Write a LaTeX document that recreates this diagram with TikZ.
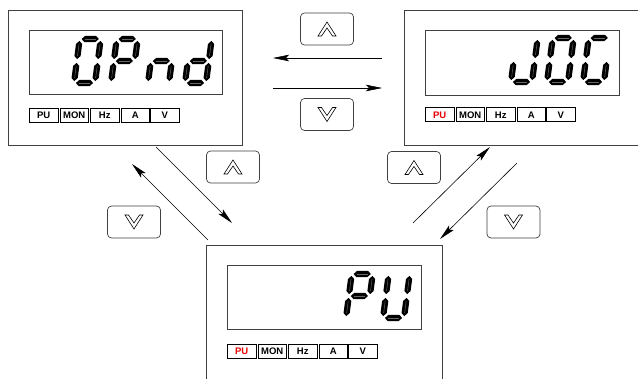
\documentclass[tikz,border=0pt]{standalone}
\usepackage{fontspec}
\setmainfont{Liberation Sans}
\usetikzlibrary{arrows.meta}

% seven-segment geometry (pt): width, height, middle, corner gap, half thickness
\def\segW{21}\def\segH{44}\def\segM{22}\def\segG{1.9}\def\segT{3.1}

% horizontal segment: x1, x2, y
\newcommand\hseg[3]{%
  \fill[segfill] (#1,#3) -- (#1+\segT,#3-\segT) -- (#2-\segT,#3-\segT) -- (#2,#3)
     -- (#2-\segT,#3+\segT) -- (#1+\segT,#3+\segT) -- cycle;
  \draw[seghi] (#1+\segT,#3) -- (#2-\segT,#3);}
% vertical segment: x, y-top, y-bottom
\newcommand\vseg[3]{%
  \fill[segfill] (#1,#2) -- (#1+\segT,#2+\segT) -- (#1+\segT,#3-\segT) -- (#1,#3)
     -- (#1-\segT,#3-\segT) -- (#1-\segT,#2+\segT) -- cycle;
  \draw[seghi] (#1,#2+\segT) -- (#1,#3-\segT);}

\newcommand\segA{\hseg{\segG}{\segW-\segG}{-\segH}}
\newcommand\segD{\hseg{\segG}{\segW-\segG}{0}}
\newcommand\segMid{\hseg{\segG}{\segW-\segG}{-\segM}}
\newcommand\segF{\vseg{0}{-\segH+\segG}{-\segM-\segG}}
\newcommand\segE{\vseg{0}{-\segM+\segG}{-\segG}}
\newcommand\segB{\vseg{\segW}{-\segH+\segG}{-\segM-\segG}}
\newcommand\segC{\vseg{\segW}{-\segM+\segG}{-\segG}}

% one digit with its lower left corner at (#1,#2)
\newcommand\digit[3]{\begin{scope}[shift={(#1,#2)},xslant=0.13]#3\end{scope}}

% row of indicator boxes: x, y, colour of PU, name prefix
\newcommand\lamps[4]{%
  \node[lampbox,text=#3] (#4pu)  at (#1,#2) {PU};
  \node[lampbox] (#4mon) at (#1+30.5,#2) {MON};
  \node[lampbox] (#4hz)  at (#1+61,#2) {Hz};
  \node[lampbox] (#4a)   at (#1+91.5,#2) {A};
  \node[lampbox] (#4v)   at (#1+121,#2) {V};}

\newcommand\chevup[1]{\draw[chev,shift={(#1.center)}]
  (-9,7) -- (0,-7) -- (9,7) -- (5.5,7) -- (0,-1) -- (-5.5,7) -- cycle;}
\newcommand\chevdown[1]{\draw[chev,shift={(#1.center)}]
  (-9,-7) -- (0,7) -- (9,-7) -- (5.5,-7) -- (0,1) -- (-5.5,-7) -- cycle;}

\definecolor{frame}{gray}{0.25}
\definecolor{lampred}{RGB}{230,0,0}

\begin{document}
\begin{tikzpicture}[x=1pt,y=-1pt,
  segfill/.style={fill=black},
  seghi/.style={draw=black!60,line width=0.5pt},
  outer/.style={draw=frame,line width=0.8pt},
  screen/.style={draw=frame,line width=1pt},
  lampbox/.style={draw=black,line width=0.9pt,anchor=north west,
    minimum width=28.5pt,minimum height=14pt,inner sep=0pt,
    font=\fontsize{9.5}{10}\selectfont\bfseries},
  btn/.style={draw=frame,line width=0.7pt,rounded corners=4pt,
    minimum width=53pt,minimum height=32pt,inner sep=0pt},
  chev/.style={draw=black,line width=0.6pt},
  conn/.style={line width=0.6pt,-{Stealth[length=16pt,width=6.5pt,inset=3pt]}}]

\useasboundingbox (0,0) rectangle (638,379);
\fill[white] (0,0) rectangle (638,379);

% ---- panel: OPnd ----
\draw[outer] (8,10) rectangle (242,145);
\draw[screen] (29,31) rectangle (222,95);
\digit{74}{83}{\segA\segB\segC\segD\segE\segF}
\digit{111}{83}{\segA\segB\segF\segMid\segE}
\digit{148}{83}{\segMid\segC\segE}
\digit{185}{83}{\segB\segC\segD\segE\segMid}
\lamps{29}{108}{black}{l}

% ---- panel: JOG ----
\draw[outer] (638,10) -- (404,10) -- (404,145) -- (638,145);
\draw[screen] (425,31) rectangle (619,96);
\digit{511}{82}{\segB\segC\segD\segE}
\digit{547}{82}{\segA\segB\segC\segD\segE\segF}
\digit{583}{82}{\segA\segF\segE\segD\segC}
\lamps{425}{107.5}{lampred}{r}

% ---- panel: PU ----
\draw[outer] (206,379) -- (206,245) -- (442,245) -- (442,379);
\draw[screen] (227,266) rectangle (421,330);
\digit{346}{318}{\segA\segB\segF\segMid\segE}
\digit{383}{318}{\segB\segC\segD\segE\segF}
\lamps{227}{344}{lampred}{b}

% ---- keys ----
\node[btn] (kTopUp)    at (327,29)    {};
\node[btn] (kTopDown)  at (327,114.5) {};
\node[btn] (kLeftUp)   at (233,167)   {};
\node[btn] (kLeftDown) at (134,222)   {};
\node[btn] (kRightUp)  at (414,167.5) {};
\node[btn] (kRightDown) at (513.5,222) {};
\chevup{kTopUp} \chevdown{kTopDown}
\chevup{kLeftUp} \chevdown{kLeftDown}
\chevup{kRightUp} \chevdown{kRightDown}

% ---- transitions ----
\coordinate (h1s) at (382,58);   \coordinate (h1e) at (273,58);
\coordinate (h2s) at (273,88);   \coordinate (h2e) at (382,88);
\coordinate (l1s) at (156,147);  \coordinate (l1e) at (232,223);
\coordinate (l2s) at (208,240);  \coordinate (l2e) at (132,164);
\coordinate (r1s) at (413,223);  \coordinate (r1e) at (490,147);
\coordinate (r2s) at (517,163);  \coordinate (r2e) at (440,239);
\draw[conn] (h1s) -- (h1e);
\draw[conn] (h2s) -- (h2e);
\draw[conn] (l1s) -- (l1e);
\draw[conn] (l2s) -- (l2e);
\draw[conn] (r1s) -- (r1e);
\draw[conn] (r2s) -- (r2e);
\end{tikzpicture}
\end{document}
